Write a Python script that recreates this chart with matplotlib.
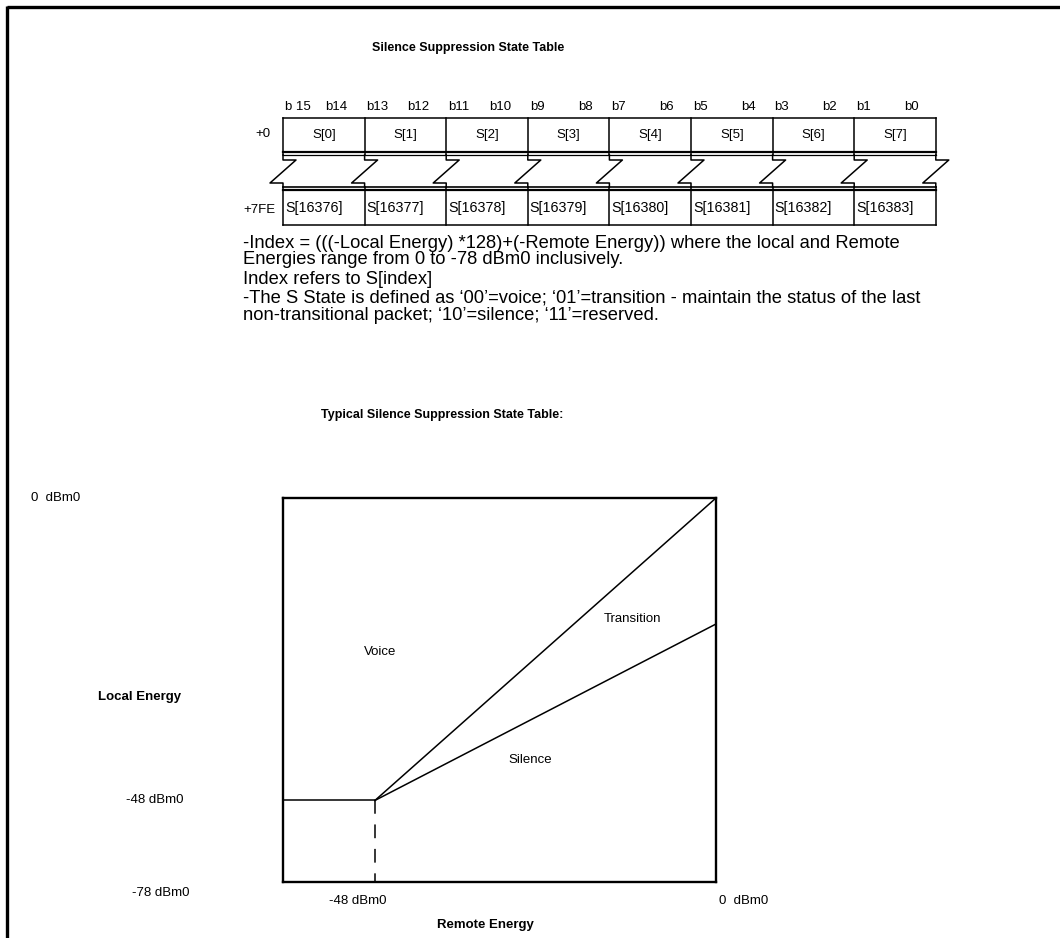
import numpy as np
import matplotlib
matplotlib.use("Agg")
import matplotlib.pyplot as plt

# ---------------- data ----------------
title_top = "Silence Suppression State Table"
title_chart = "Typical Silence Suppression State Table:"
bit_left = ["b 15", "b13", "b11", "b9", "b7", "b5", "b3", "b1"]
bit_right = ["b14", "b12", "b10", "b8", "b6", "b4", "b2", "b0"]
top_cells = ["S[0]", "S[1]", "S[2]", "S[3]", "S[4]", "S[5]", "S[6]", "S[7]"]
bottom_cells = ["S[16376]", "S[16377]", "S[16378]", "S[16379]",
                "S[16380]", "S[16381]", "S[16382]", "S[16383]"]
row_offsets = ["+0", "+7FE"]
notes = [
    "-Index = (((-Local Energy) *128)+(-Remote Energy)) where the local and Remote",
    "Energies range from 0 to -78 dBm0 inclusively.",
    "Index refers to S[index]",
    "-The S State is defined as \u201800\u2019=voice; \u201801\u2019=transition - maintain the status of the last",
    "non-transitional packet; \u201810\u2019=silence; \u201811\u2019=reserved.",
]

energy_breaks = [-78, -48, 0]          # dBm0
voice_edge_x = [-48, 0]
voice_edge_y = [-48, 0]
silence_edge_x = [-48, 0]
silence_edge_y = [-48, -20]
floor_x = [-78, -48]
floor_y = [-48, -48]
drop_x = [-48, -48]
drop_y = [-48, -78]
y_tick_labels = ["0  dBm0", "-48 dBm0", "-78 dBm0"]
x_tick_labels = ["-48 dBm0", "0  dBm0"]
regions = ["Voice", "Transition", "Silence"]
region_pos = [(-47.3, -24.5), (-11.7, -19.2), (-26.2, -41.6)]

FONT = ["Liberation Sans", "DejaVu Sans"]

W, H = 1060, 938
fig = plt.figure(figsize=(W / 100, H / 100), dpi=100)
bg = fig.add_axes([0, 0, 1, 1])
bg.set_xlim(0, W)
bg.set_ylim(H, 0)
bg.axis("off")

# outer border (top and left)
bg.plot([7, W + 5], [7, 7], color="black", lw=2.4, solid_capstyle="butt")
bg.plot([7, 7], [6, H + 5], color="black", lw=2.4, solid_capstyle="butt")

# titles
bg.text(468, 48, title_top, ha="center", va="center", fontsize=9,
        fontweight="bold", family=FONT)

# ---------------- register table ----------------
x0, cw = 283.0, 81.6
n = len(top_cells)
bounds = [x0 + i * cw for i in range(n + 1)]
t_top, t_bot = 118, 152
b_top, b_bot = 190, 225
lw = 1.1

bg.plot([bounds[0], bounds[-1]], [t_top, t_top], color="black", lw=lw)
bg.plot([bounds[0], bounds[-1]], [t_bot, t_bot], color="black", lw=1.6)
bg.plot([bounds[0], bounds[-1]], [t_bot + 3, t_bot + 3], color="black", lw=0.9)
bg.plot([bounds[0], bounds[-1]], [b_top - 3, b_top - 3], color="black", lw=1.2)
bg.plot([bounds[0], bounds[-1]], [b_top, b_top], color="black", lw=1.6)
bg.plot([bounds[0], bounds[-1]], [b_bot, b_bot], color="black", lw=lw)
for b in bounds:
    bg.plot([b, b], [t_top, t_bot + 3], color="black", lw=lw)
    bg.plot([b, b], [b_top - 3, b_bot], color="black", lw=lw)
    bg.plot([b, b, b + 13, b - 13, b, b],
            [t_bot + 3, 160, 160, 183, 183, b_top - 3], color="black", lw=lw)

for i in range(n):
    l, r = bounds[i], bounds[i + 1]
    bg.text(l + 2, 107, bit_left[i], ha="left", va="center", fontsize=9.5, family=FONT)
    bg.text(r - 17, 107, bit_right[i], ha="right", va="center", fontsize=9.5, family=FONT)
    bg.text((l + r) / 2, 135, top_cells[i], ha="center", va="center", fontsize=9.5, family=FONT)
    bg.text(l + 2, 208, bottom_cells[i], ha="left", va="center", fontsize=10.3, family=FONT)

bg.text(271, 134, row_offsets[0], ha="right", va="center", fontsize=9.5, family=FONT)
bg.text(276, 210, row_offsets[1], ha="right", va="center", fontsize=9.5, family=FONT)

# notes
note_y = [243, 259, 279, 298, 315]
for txt, yy in zip(notes, note_y):
    bg.text(243, yy, txt, ha="left", va="center", fontsize=13.2, family=FONT)

bg.text(442, 415, title_chart, ha="center", va="center", fontsize=9,
        fontweight="bold", family=FONT)

# ---------------- energy chart ----------------
L, R, T, B = 283, 716, 498, 882
ax = fig.add_axes([L / W, 1 - B / H, (R - L) / W, (B - T) / H])
frac = [0.0, 0.2125, 1.0]


def fwd(v):
    return np.interp(v, energy_breaks, frac)


def inv(u):
    return np.interp(u, frac, energy_breaks)


ax.set_xscale("function", functions=(fwd, inv))
ax.set_yscale("function", functions=(fwd, inv))
ax.set_xlim(energy_breaks[0], energy_breaks[-1])
ax.set_ylim(energy_breaks[0], energy_breaks[-1])
ax.set_xticks([])
ax.set_yticks([])
ax.minorticks_off()
for s in ax.spines.values():
    s.set_linewidth(1.7)

ax.plot(voice_edge_x, voice_edge_y, color="black", lw=1.1)
ax.plot(silence_edge_x, silence_edge_y, color="black", lw=1.1)
ax.plot(floor_x, floor_y, color="black", lw=1.1)
ax.plot(drop_x, drop_y, color="black", lw=1.1, linestyle=(0, (9, 7)))

for name, (xx, yy) in zip(regions, region_pos):
    ax.text(xx, yy, name, ha="center", va="center", fontsize=9.5, family=FONT)

bg.text(80, 498, y_tick_labels[0], ha="right", va="center", fontsize=9.5, family=FONT)
bg.text(183, 800, y_tick_labels[1], ha="right", va="center", fontsize=9.5, family=FONT)
bg.text(190, 893, y_tick_labels[2], ha="right", va="center", fontsize=9.5, family=FONT)
bg.text(358, 901, x_tick_labels[0], ha="center", va="center", fontsize=9.5, family=FONT)
bg.text(744, 901, x_tick_labels[1], ha="center", va="center", fontsize=9.5, family=FONT)
bg.text(140, 697, "Local Energy", ha="center", va="center", fontsize=9.5,
        fontweight="bold", family=FONT)
bg.text(485, 925, "Remote Energy", ha="center", va="center", fontsize=9.5,
        fontweight="bold", family=FONT)

fig.savefig("out.png", dpi=100)
